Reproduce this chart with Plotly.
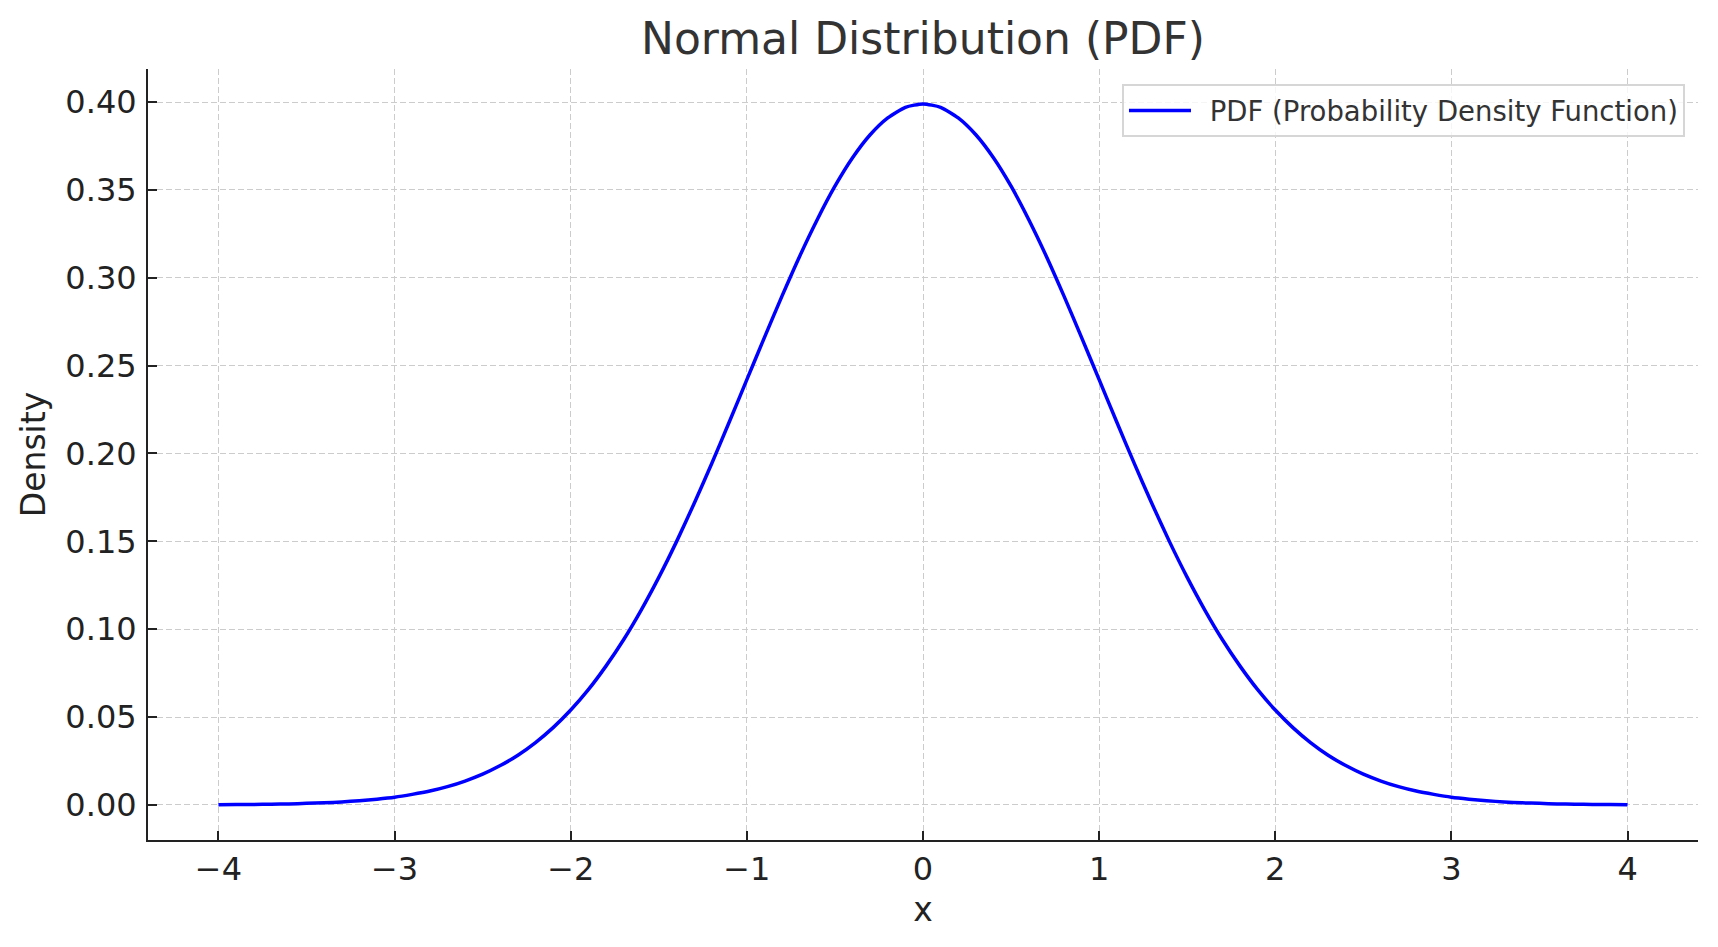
import plotly.graph_objects as go

# Values (x, density)
x_vals = [-4.0, -3.9, -3.8, -3.7, -3.6, -3.5, -3.4, -3.3, -3.2, -3.1,
          -3.0, -2.9, -2.8, -2.7, -2.6, -2.5, -2.4, -2.3, -2.2, -2.1,
          -2.0, -1.9, -1.8, -1.7, -1.6, -1.5, -1.4, -1.3, -1.2, -1.1,
          -1.0, -0.9, -0.8, -0.7, -0.6, -0.5, -0.4, -0.3, -0.2, -0.1,
          0.0, 0.1, 0.2, 0.3, 0.4, 0.5, 0.6, 0.7, 0.8, 0.9,
          1.0, 1.1, 1.2, 1.3, 1.4, 1.5, 1.6, 1.7, 1.8, 1.9,
          2.0, 2.1, 2.2, 2.3, 2.4, 2.5, 2.6, 2.7, 2.8, 2.9,
          3.0, 3.1, 3.2, 3.3, 3.4, 3.5, 3.6, 3.7, 3.8, 3.9, 4.0]
density_vals = [0.0001, 0.0002, 0.0003, 0.0004, 0.0006, 0.0009, 0.0012, 0.0017, 0.0024, 0.0033,
                0.0044, 0.0060, 0.0079, 0.0104, 0.0136, 0.0175, 0.0224, 0.0283, 0.0355, 0.0440,
                0.0540, 0.0656, 0.0790, 0.0940, 0.1109, 0.1295, 0.1497, 0.1714, 0.1942, 0.2179,
                0.2420, 0.2661, 0.2897, 0.3123, 0.3332, 0.3521, 0.3683, 0.3814, 0.3910, 0.3970,
                0.3989, 0.3970, 0.3910, 0.3814, 0.3683, 0.3521, 0.3332, 0.3123, 0.2897, 0.2661,
                0.2420, 0.2179, 0.1942, 0.1714, 0.1497, 0.1295, 0.1109, 0.0940, 0.0790, 0.0656,
                0.0540, 0.0440, 0.0355, 0.0283, 0.0224, 0.0175, 0.0136, 0.0104, 0.0079, 0.0060,
                0.0044, 0.0033, 0.0024, 0.0017, 0.0012, 0.0009, 0.0006, 0.0004, 0.0003, 0.0002, 0.0001]

x_tick_vals = [-4, -3, -2, -1, 0, 1, 2, 3, 4]
x_tick_text = ["\u22124", "\u22123", "\u22122", "\u22121", "0", "1", "2", "3", "4"]
y_tick_vals = [0.00, 0.05, 0.10, 0.15, 0.20, 0.25, 0.30, 0.35, 0.40]
y_tick_text = ["0.00", "0.05", "0.10", "0.15", "0.20", "0.25", "0.30", "0.35", "0.40"]
series_name = "PDF (Probability Density Function)"

FONT = "DejaVu Sans"

fig = go.Figure()
fig.add_trace(go.Scatter(
    x=x_vals, y=density_vals, mode="lines",
    line=dict(color="#0000ff", width=3.5, shape="spline", smoothing=0.6),
    name="\u2002" + series_name,
))

W, H = 1718, 947
ml, mr, mt, mb = 148, 20, 69, 107

axis_common = dict(
    showline=True, linecolor="#222222", linewidth=2, mirror=False,
    ticks="inside", ticklen=9, tickwidth=2, tickcolor="#222222",
    showgrid=True, gridcolor="#cccccc", gridwidth=1.2, griddash="6px,3px",
    zeroline=False,
    tickfont=dict(family=FONT, size=32, color="#222222"),
)

fig.update_layout(
    width=W, height=H,
    margin=dict(l=ml, r=mr, t=mt, b=mb, pad=0),
    paper_bgcolor="white", plot_bgcolor="white",
    font=dict(family=FONT, color="#222222"),
    title=dict(text="Normal Distribution (PDF)", x=0.5, xref="paper",
               y=1 - 39 / H, yref="container", yanchor="middle", xanchor="center",
               font=dict(family=FONT, size=44, color="#333333")),
    xaxis=dict(range=[-4.4, 4.4], tickvals=x_tick_vals, ticktext=x_tick_text,
               title=dict(text="x", font=dict(family=FONT, size=33, color="#222222"), standoff=10),
               **axis_common),
    yaxis=dict(range=[-0.01995, 0.4188], tickvals=y_tick_vals, ticktext=y_tick_text,
               ticklabelstandoff=3,
               title=dict(text="Density", font=dict(family=FONT, size=33, color="#222222"), standoff=10),
               **axis_common),
    showlegend=True,
    legend=dict(x=0.9916, y=0.9805, xanchor="right", yanchor="top",
                bgcolor="rgba(255,255,255,0.8)", bordercolor="#d6d6d6", borderwidth=2,
                itemwidth=62,
                font=dict(family=FONT, size=27.5, color="#333333")),
)

fig.write_html("out.html")
